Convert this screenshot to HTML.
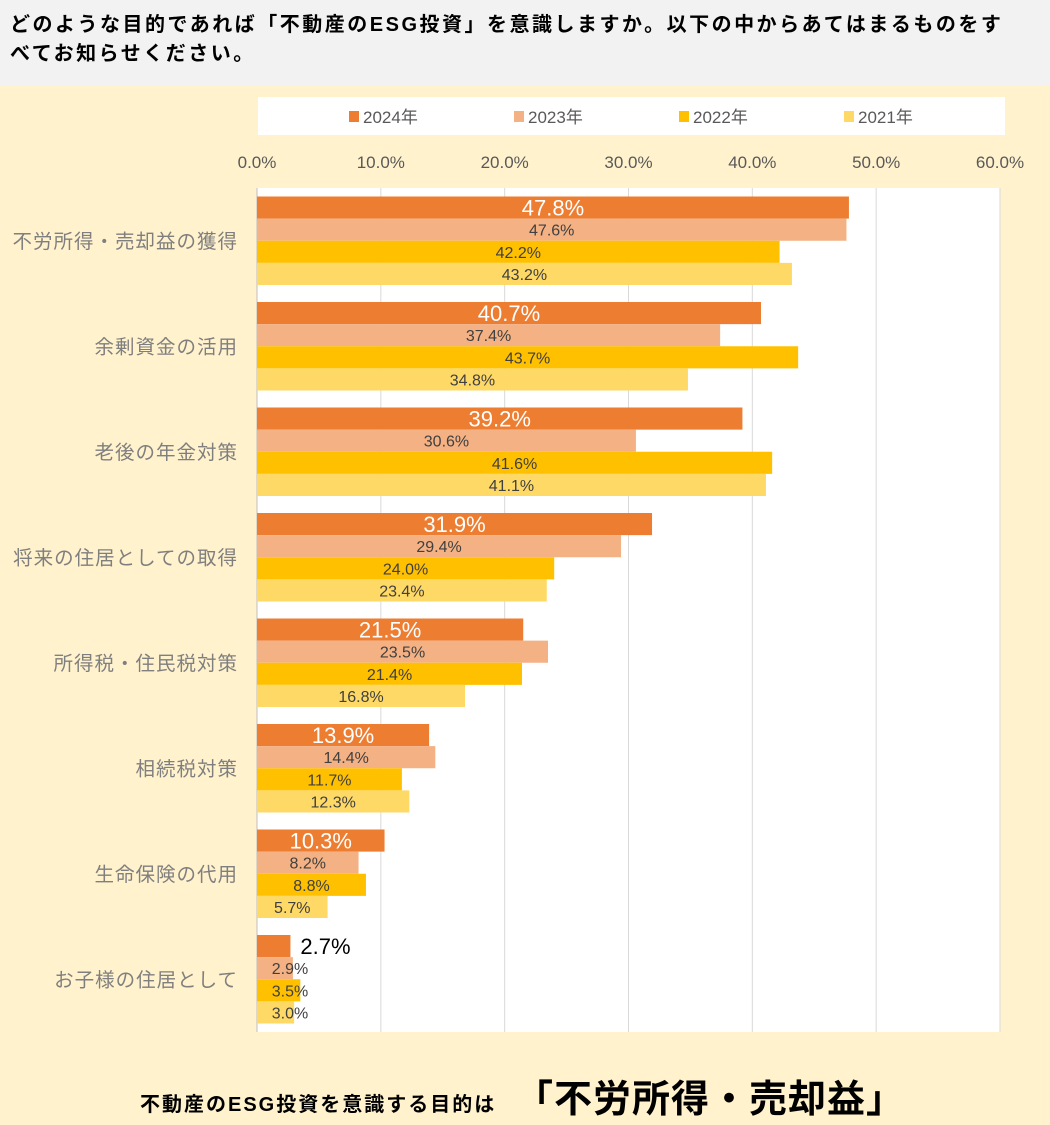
<!DOCTYPE html>
<html><head><meta charset="utf-8"><style>
body{margin:0;width:1050px;height:1125px;overflow:hidden;background:#FFF2CC;font-family:"Liberation Sans","Noto Sans CJK JP",sans-serif;}
#hdr{position:absolute;left:0;top:0;width:1050px;height:85px;background:#F2F2F2;}
#hdr div{position:absolute;left:10px;top:11px;width:1040px;font-size:20px;letter-spacing:2.5px;font-weight:bold;line-height:29px;color:#000;white-space:nowrap;}
svg{position:absolute;left:0;top:0;}
</style></head><body>
<div id="hdr"><div>どのような目的であれば「不動産のESG投資」を意識しますか。以下の中からあてはまるものをす<br>べてお知らせください。</div></div>
<svg id="c" width="1050" height="1125"></svg>
<script>
const categories=["不労所得・売却益の獲得","余剰資金の活用","老後の年金対策","将来の住居としての取得","所得税・住民税対策","相続税対策","生命保険の代用","お子様の住居として"];
const seriesNames=["2024年","2023年","2022年","2021年"];
const s2024=[47.8,40.7,39.2,31.9,21.5,13.9,10.3,2.7];
const s2023=[47.6,37.4,30.6,29.4,23.5,14.4,8.2,2.9];
const s2022=[42.2,43.7,41.6,24.0,21.4,11.7,8.8,3.5];
const s2021=[43.2,34.8,41.1,23.4,16.8,12.3,5.7,3.0];
const ticks=[0,10,20,30,40,50,60];
const series=[s2024,s2023,s2022,s2021];
const colors=["#ED7D31","#F4B183","#FFC000","#FFD966"];
const NS="http://www.w3.org/2000/svg";
const svg=document.getElementById('c');
const L=257,R=1000,T=188,B=1032;
const x=v=>L+(v-0)/(60-0)*(R-L);
const gH=(B-T)/categories.length, pad=8.5, bH=(gH-2*pad)/4;
function el(t,a,p){const e=document.createElementNS(NS,t);for(const k in a)e.setAttribute(k,a[k]);(p||svg).appendChild(e);return e;}
const lg=el('rect',{x:258,y:97,width:747,height:38,fill:'#fff'});


seriesNames.forEach((n,i)=>{
  const lx=349+i*165;
  const sw=el('rect',{x:lx,y:111,width:10,height:11,fill:colors[i]});
  
  
  const t=el('text',{x:lx+14,y:123,'font-size':17,fill:'#595959'});t.textContent=n;
  
  
});
const pb=el('rect',{x:L,y:T,width:R-L,height:B-T,fill:'#fff'});


ticks.forEach(v=>{
  const g=el('line',{x1:x(v),x2:x(v),y1:T,y2:B,stroke:v===0?'#BFBFBF':'#D9D9D9','stroke-width':1});
  
  
  const t=el('text',{x:x(v),y:168,'font-size':17,fill:'#595959','text-anchor':'middle'});t.textContent=v.toFixed(1)+'%';
  
  
});
categories.forEach((c,ci)=>{
  const gy=T+ci*gH;
  const ct=el('text',{x:238,y:gy+gH/2+7,'font-size':19.5,'letter-spacing':1,fill:'#7F7F7F','text-anchor':'end'});ct.textContent=c;
  
  
  series.forEach((s,si)=>{
    const v=s[ci],y=gy+pad+si*bH;
    const r=el('rect',{x:L,y:y,width:x(v)-L,height:bH,fill:colors[si]});
    
    
    const w=x(v)-L;let t;
    if(si===0){
      if(w<60){t=el('text',{x:x(v)+10,y:y+bH/2+8,'font-size':22,fill:'#000'});}
      else t=el('text',{x:(L+x(v))/2,y:y+bH/2+8,'font-size':22,fill:'#fff','text-anchor':'middle'});
    }else{
      t=el('text',{x:Math.max((L+x(v))/2,L+33),y:y+bH/2+6,'font-size':16,fill:'#404040','text-anchor':'middle'});
    }
    t.textContent=v.toFixed(1)+'%';
    
    
  });
});
const f1=el('text',{x:140,y:1111,'font-size':20,'letter-spacing':2,'font-weight':'bold',fill:'#000'});f1.textContent='不動産のESG投資を意識する目的は';


const f2=el('text',{x:515,y:1112,'font-size':38,'letter-spacing':1,'font-weight':'bold',fill:'#000'});f2.textContent='「不労所得・売却益」';


</script>
</body></html>
